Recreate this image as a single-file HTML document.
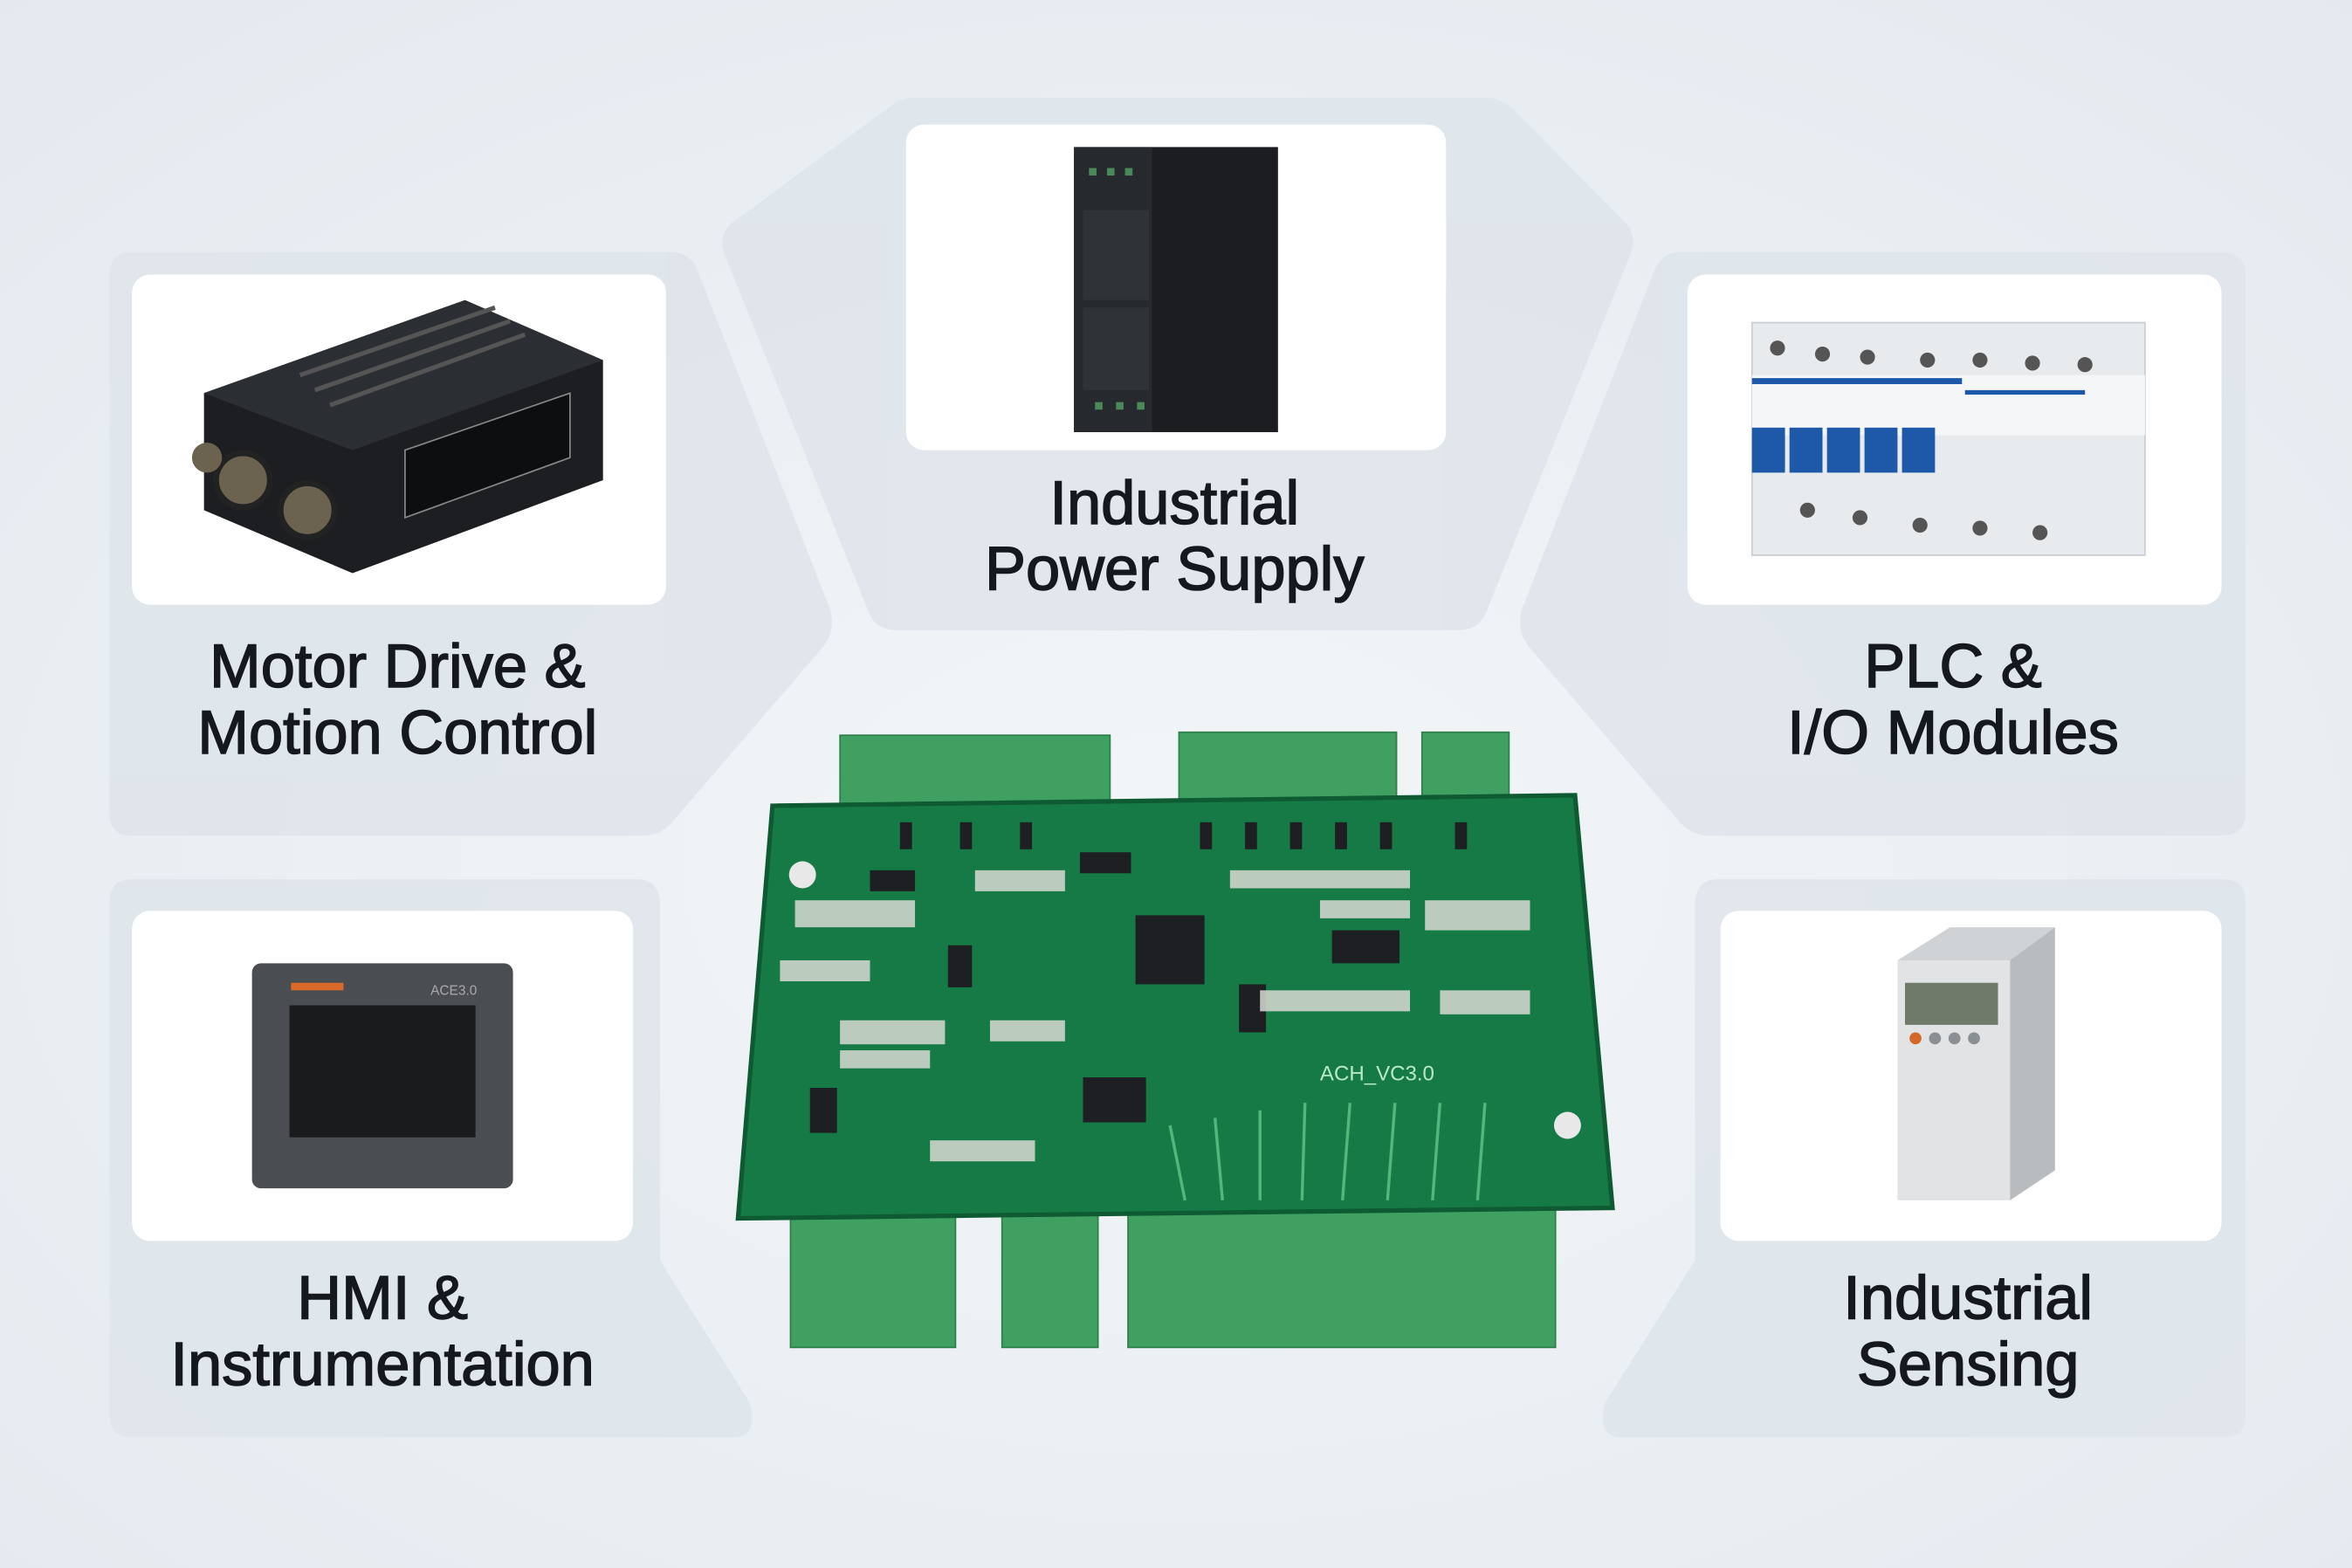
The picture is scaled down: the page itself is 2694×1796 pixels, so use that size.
<!DOCTYPE html>
<html><head><meta charset="utf-8"><style>
html,body{margin:0;padding:0;width:2694px;height:1796px;overflow:hidden;background:#eef2f6}
svg{display:block}
text{font-family:"Liberation Sans",sans-serif;fill:#15181c}
.lbl{stroke:#15181c;stroke-width:0.9}
</style></head><body>
<svg width="2694" height="1796" viewBox="0 0 1568 1045" preserveAspectRatio="none" xmlns="http://www.w3.org/2000/svg">
<defs>
<radialGradient id="bg" cx="0.5" cy="0.55" r="0.75">
<stop offset="0" stop-color="#f3f6f8"/><stop offset="1" stop-color="#e3e9ef"/></radialGradient>
</defs>
<rect width="1568" height="1045" fill="url(#bg)"/>
<g fill="#dfe5eb" opacity="0.9">
<path d="M610,65 L990,65 Q1000,65 1008,72 L1085,150 Q1092,160 1086,172 L990,410 Q985,420 972,420 L598,420 Q585,420 580,410 L484,172 Q478,160 486,150 L592,72 Q600,65 610,65Z"/>
<path d="M88,168 L448,168 Q460,168 465,180 L553,405 Q558,420 548,432 L448,548 Q440,557 428,557 L88,557 Q73,557 73,542 L73,183 Q73,168 88,168Z"/>
<path d="M1480,168 L1120,168 Q1108,168 1103,180 L1015,405 Q1010,420 1020,432 L1120,548 Q1128,557 1140,557 L1480,557 Q1497,557 1497,542 L1497,183 Q1497,168 1480,168Z"/>
<path d="M88,586 L425,586 Q438,586 440,600 L440,840 L500,935 Q506,958 488,958 L88,958 Q73,958 73,943 L73,601 Q73,586 88,586Z"/>
<path d="M1482,586 L1145,586 Q1132,586 1130,600 L1130,840 L1070,935 Q1064,958 1082,958 L1482,958 Q1497,958 1497,943 L1497,601 Q1497,586 1482,586Z"/>
</g>
<g fill="#ffffff">
<rect x="604" y="83" width="360" height="217" rx="12"/>
<rect x="88" y="183" width="356" height="220" rx="12"/>
<rect x="1125" y="183" width="356" height="220" rx="12"/>
<rect x="88" y="607" width="334" height="220" rx="12"/>
<rect x="1147" y="607" width="334" height="220" rx="12"/>
</g>
<rect x="716" y="98" width="136" height="190" fill="#1b1d20"/>
<rect x="716" y="98" width="52" height="190" fill="#26292d"/>
<rect x="722" y="140" width="44" height="60" fill="#2f3337"/>
<rect x="722" y="205" width="44" height="55" fill="#2f3337"/>
<g fill="#4a8a5a"><rect x="726" y="112" width="5" height="5"/><rect x="738" y="112" width="5" height="5"/><rect x="750" y="112" width="5" height="5"/><rect x="730" y="268" width="5" height="5"/><rect x="744" y="268" width="5" height="5"/><rect x="758" y="268" width="5" height="5"/></g>
<path d="M136,262 L310,200 L402,240 L402,320 L235,382 L136,340Z" fill="#1c1e21"/>
<path d="M136,262 L310,200 L402,240 L235,300Z" fill="#2b2e32"/>
<path d="M270,300 L380,262 L380,305 L270,345Z" fill="#0d0e10" stroke="#888" stroke-width="1"/>
<g stroke="#555" stroke-width="3"><line x1="200" y1="250" x2="330" y2="205"/><line x1="210" y1="260" x2="340" y2="214"/><line x1="220" y1="270" x2="350" y2="223"/></g>
<circle cx="162" cy="320" r="18" fill="#6b6250" stroke="#222" stroke-width="4"/>
<circle cx="205" cy="340" r="18" fill="#6b6250" stroke="#222" stroke-width="4"/>
<circle cx="138" cy="305" r="10" fill="#6b6250"/>
<rect x="1168" y="215" width="262" height="155" fill="#e8ebee" stroke="#c9ced3"/>
<rect x="1168" y="250" width="262" height="40" fill="#f5f6f7"/>
<g fill="#1e58a8"><rect x="1168" y="285" width="22" height="30"/><rect x="1193" y="285" width="22" height="30"/><rect x="1218" y="285" width="22" height="30"/><rect x="1243" y="285" width="22" height="30"/><rect x="1268" y="285" width="22" height="30"/><rect x="1168" y="252" width="140" height="4"/><rect x="1310" y="260" width="80" height="3"/></g>
<g fill="#555"><circle cx="1185" cy="232" r="5"/><circle cx="1215" cy="236" r="5"/><circle cx="1245" cy="238" r="5"/><circle cx="1285" cy="240" r="5"/><circle cx="1320" cy="240" r="5"/><circle cx="1355" cy="242" r="5"/><circle cx="1390" cy="243" r="5"/><circle cx="1205" cy="340" r="5"/><circle cx="1240" cy="345" r="5"/><circle cx="1280" cy="350" r="5"/><circle cx="1320" cy="352" r="5"/><circle cx="1360" cy="355" r="5"/></g>
<rect x="168" y="642" width="174" height="150" rx="6" fill="#4a4d52"/>
<rect x="193" y="670" width="124" height="88" fill="#1a1b1d"/>
<rect x="194" y="655" width="35" height="5" fill="#d96a2a"/>
<text x="287" y="663" font-size="9" style="fill:#aaa">ACE3.0</text>
<path d="M1265,640 L1300,618 L1370,618 L1340,640Z" fill="#cfd3d6"/>
<rect x="1265" y="640" width="75" height="160" fill="#e1e3e4"/>
<path d="M1340,640 L1370,618 L1370,780 L1340,800Z" fill="#b8bcbf"/>
<rect x="1270" y="655" width="62" height="28" fill="#6f7a6a"/>
<g fill="#8a8f93"><circle cx="1277" cy="692" r="4" fill="#d2692a"/><circle cx="1290" cy="692" r="4"/><circle cx="1303" cy="692" r="4"/><circle cx="1316" cy="692" r="4"/></g>
<g fill="#3fa062" stroke="#2d7f4a" stroke-width="1">
<rect x="560" y="490" width="180" height="50"/><rect x="786" y="488" width="145" height="52"/><rect x="948" y="488" width="58" height="50"/>
<rect x="527" y="800" width="110" height="98"/><rect x="668" y="800" width="64" height="98"/><rect x="752" y="800" width="285" height="98"/>
</g>
<path d="M515,537 L1050,530 L1075,805 L492,812Z" fill="#157a45"/>
<path d="M515,537 L1050,530 L1075,805 L492,812Z" fill="none" stroke="#0e5a32" stroke-width="3"/>
<g fill="#1d1f22"><rect x="757" y="610" width="46" height="46"/><rect x="888" y="620" width="45" height="22"/><rect x="722" y="718" width="42" height="30"/><rect x="580" y="580" width="30" height="14"/><rect x="720" y="568" width="34" height="14"/><rect x="540" y="725" width="18" height="30"/><rect x="632" y="630" width="16" height="28"/><rect x="826" y="656" width="18" height="32"/></g>
<g fill="#d8dbd5" opacity="0.85">
<rect x="530" y="600" width="80" height="18"/><rect x="650" y="580" width="60" height="14"/><rect x="820" y="580" width="120" height="12"/><rect x="950" y="600" width="70" height="20"/><rect x="560" y="680" width="70" height="16"/><rect x="660" y="680" width="50" height="14"/><rect x="840" y="660" width="100" height="14"/><rect x="960" y="660" width="60" height="16"/><rect x="620" y="760" width="70" height="14"/><rect x="520" y="640" width="60" height="14"/><rect x="560" y="700" width="60" height="12"/><rect x="880" y="600" width="60" height="12"/></g>
<g fill="#1d1f22"><rect x="600" y="548" width="8" height="18"/><rect x="640" y="548" width="8" height="18"/><rect x="680" y="548" width="8" height="18"/><rect x="800" y="548" width="8" height="18"/><rect x="830" y="548" width="8" height="18"/><rect x="860" y="548" width="8" height="18"/><rect x="890" y="548" width="8" height="18"/><rect x="920" y="548" width="8" height="18"/><rect x="970" y="548" width="8" height="18"/></g>
<g stroke="#6fcf95" stroke-width="2" fill="none" opacity="0.7"><path d="M780,750 L790,800 M810,745 L815,800 M840,740 L840,800 M870,735 L868,800 M900,735 L895,800 M930,735 L925,800 M960,735 L955,800 M990,735 L985,800"/></g>
<circle cx="535" cy="583" r="9" fill="#e8e8e8"/><circle cx="1045" cy="750" r="9" fill="#e8e8e8"/>
<text x="880" y="720" font-size="14" style="fill:#b9e8c9">ACH_VC3.0</text>
<g font-size="41" text-anchor="middle" class="lbl">
<text x="783" y="349" class="lbl">Industrial</text><text x="783" y="393" class="lbl">Power Supply</text>
<text x="265" y="458" class="lbl">Motor Drive &amp;</text><text x="265" y="502" class="lbl">Motion Control</text>
<text x="1302" y="458" class="lbl">PLC &amp;</text><text x="1302" y="502" class="lbl">I/O Modules</text>
<text x="255" y="879" class="lbl">HMI &amp;</text><text x="255" y="923" class="lbl">Instrumentation</text>
<text x="1312" y="879" class="lbl">Industrial</text><text x="1312" y="923" class="lbl">Sensing</text>
</g>
</svg>
</body></html>
